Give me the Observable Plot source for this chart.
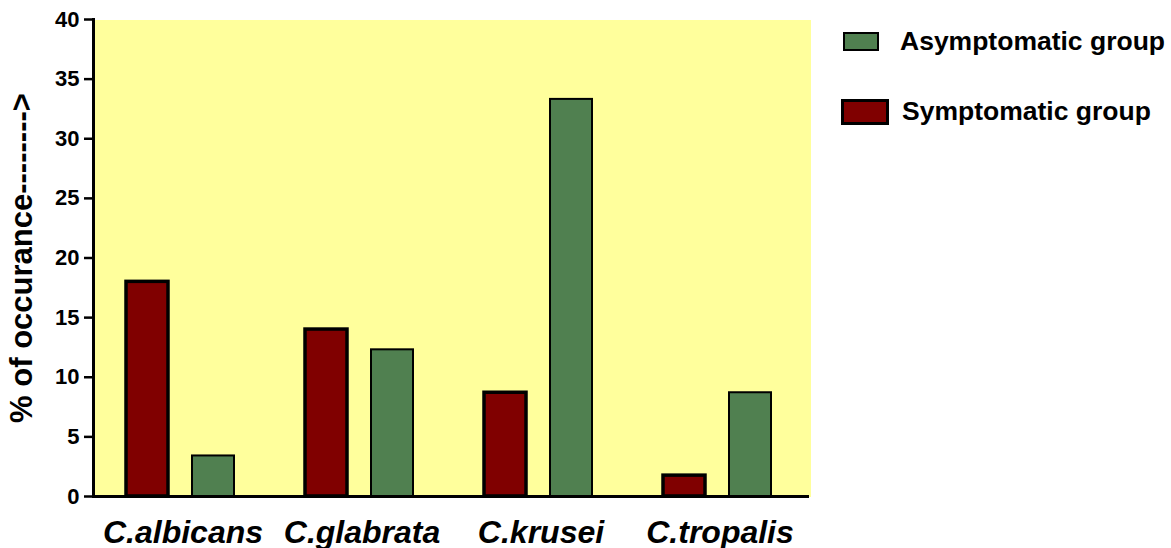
<!DOCTYPE html>
<html>
<head>
<meta charset="utf-8">
<script src="https://cdn.jsdelivr.net/npm/d3@7"></script>
<script src="https://cdn.jsdelivr.net/npm/@observablehq/plot@0.6"></script>
<style>
  html, body { margin: 0; padding: 0; background: #fff; }
  #wrap { position: relative; width: 1171px; height: 548px; font-family: "Liberation Sans", Arial, sans-serif; }
  #wrap svg { position: absolute; left: 0; top: 0; overflow: visible; }
  .sw { position: absolute; box-sizing: border-box; border-style: solid; border-color: #000; }
  .lt { position: absolute; font-weight: bold; font-size: 26.5px; line-height: 26px; white-space: nowrap; color: #000; }
</style>
</head>
<body>
<div id="wrap"></div>
<script>
const species = ["C.albicans", "C.glabrata", "C.krusei", "C.tropalis"];
const groups = ["Symptomatic group", "Asymptomatic group"];
const symptomatic = [18, 14, 8.7, 1.75];
const asymptomatic = [3.4, 12.3, 33.3, 8.7];
const yTicks = [0, 5, 10, 15, 20, 25, 30, 35, 40];
const yLabel = "% of occurance-------->";
const colors = {"Symptomatic group": "#800000", "Asymptomatic group": "#508050"};

const rows = species.flatMap((s, i) => [
  {species: s, group: groups[0], value: symptomatic[i]},
  {species: s, group: groups[1], value: asymptomatic[i]}
]);

const chart = Plot.plot({
  width: 1171,
  height: 548,
  marginLeft: 91,
  marginRight: 361,
  marginTop: 19,
  marginBottom: 52,
  style: {fontFamily: "'Liberation Sans', Arial, sans-serif", fontSize: "22px", fontWeight: "bold", color: "#000", background: "transparent", overflow: "visible"},
  fx: {domain: species, padding: 0},
  x: {domain: groups, axis: null, paddingInner: 0.36, paddingOuter: 0.516, align: 0.471},
  y: {domain: [0, 40], axis: null},
  marks: [
    Plot.frame({fill: "#FFFF9C", stroke: "none", insetRight: -1, shapeRendering: "crispEdges"}),
    Plot.barY(rows.filter(d => d.group === groups[0]), {
      fx: "species", x: "group", y: "value",
      fill: colors[groups[0]], stroke: "#000", strokeWidth: 3.5
    }),
    Plot.barY(rows.filter(d => d.group === groups[1]), {
      fx: "species", x: "group", y: "value",
      fill: colors[groups[1]], stroke: "#000", strokeWidth: 2
    }),
    Plot.ruleY([0], {stroke: "#000", strokeWidth: 3}),
    Plot.frame({anchor: "left", facetAnchor: "left", stroke: "#000", strokeWidth: 3}),
    Plot.axisY({
      ticks: yTicks, tickSize: 9, tickPadding: 5, fontSize: 22, fontWeight: "bold",
      strokeWidth: 2.5, label: null
    }),
    Plot.axisY({
      ticks: [], tickSize: 0, label: yLabel, labelAnchor: "center", labelArrow: "none",
      labelOffset: 84, fontSize: 31, fontWeight: "bold"
    }),
    Plot.axisFx({
      anchor: "bottom", tickSize: 0, tickPadding: 24, fontSize: 32,
      fontWeight: "bold", fontStyle: "italic", label: null
    })
  ]
});

const wrap = document.getElementById("wrap");
wrap.appendChild(chart);

// Legend (HTML)
const legendItems = [
  {name: groups[1], sw: {left: 843, top: 32, width: 36, height: 19, border: 2}, text: {left: 900, top: 28}},
  {name: groups[0], sw: {left: 841, top: 99, width: 48, height: 26, border: 3}, text: {left: 902, top: 98}}
];
for (const it of legendItems) {
  const s = document.createElement("div");
  s.className = "sw";
  Object.assign(s.style, {
    left: it.sw.left + "px", top: it.sw.top + "px",
    width: it.sw.width + "px", height: it.sw.height + "px",
    borderWidth: it.sw.border + "px", background: colors[it.name]
  });
  wrap.appendChild(s);
  const t = document.createElement("div");
  t.className = "lt";
  t.textContent = it.name;
  Object.assign(t.style, {left: it.text.left + "px", top: it.text.top + "px"});
  wrap.appendChild(t);
}
</script>
</body>
</html>
